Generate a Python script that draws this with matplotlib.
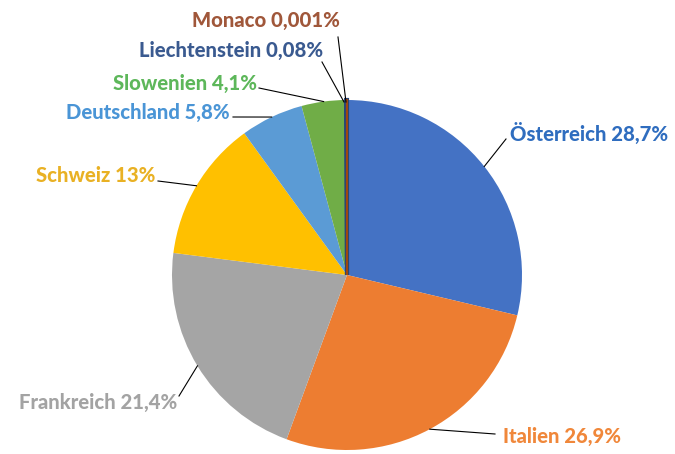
import numpy as np
from matplotlib import pyplot as plt

countries = ["Österreich", "Italien", "Frankreich", "Schweiz", "Deutschland",
             "Slowenien", "Liechtenstein", "Monaco"]
shares = [28.7, 26.9, 21.4, 13.0, 5.8, 4.1, 0.08, 0.001]
share_text = ["28,7%", "26,9%", "21,4%", "13%", "5,8%", "4,1%", "0,08%", "0,001%"]

wedge_colors = ["#4472C4", "#ED7D31", "#A5A5A5", "#FFC000", "#5B9BD5",
                "#70AD47", "#264478", "#9E480E"]
text_colors = ["#2F6DBF", "#F0873A", "#A3A3A3", "#E9B124", "#4A95D6",
               "#5DB75A", "#3A5A90", "#A0573A"]

# label placement in pixel coords (x, y from top), alignment
label_pos = [(510, 133, "left"), (503, 436, "left"), (177, 402, "right"),
             (155, 176, "right"), (230, 112, "right"), (257, 83, "right"),
             (323, 50, "right"), (340, 20, "right")]
line_end = [(506, 139), (495, 434), (179, 396), (158, 181), (233, 117),
            (259, 88), (322, 62), (338, 37)]

W, H = 675, 454
cx, cy, R = 347, 275, 175

fig = plt.figure(figsize=(W / 100, H / 100), dpi=100)
ax = fig.add_axes([0, 0, 1, 1])

wedges, _ = ax.pie(shares, colors=wedge_colors, startangle=90, counterclock=False,
                   center=(cx, H - cy), radius=R, frame=True,
                   wedgeprops=dict(linewidth=0))
# tiny slices get a visible edge
wedges[6].set_edgecolor(wedge_colors[6])
wedges[6].set_linewidth(3)
wedges[7].set_edgecolor(wedge_colors[7])
wedges[7].set_linewidth(1.5)

ax.set_xlim(0, W)
ax.set_ylim(0, H)
ax.set_aspect("equal")
ax.axis("off")

total = sum(shares)
start = 90.0
for i, (name, val) in enumerate(zip(countries, shares)):
    span = val / total * 360
    mid = np.deg2rad(start - span / 2)
    start -= span
    px = cx + R * np.cos(mid)
    py = (H - cy) + R * np.sin(mid)
    if i >= 6:
        py = H - cy + R - 2
        px = cx - 3 if i == 6 else cx - 1
    ex, ey = line_end[i]
    ax.plot([px, ex], [py, H - ey], color="black", lw=0.8)
    tx, ty, ha = label_pos[i]
    ax.text(tx, H - ty, f"{name} {share_text[i]}", color=text_colors[i],
            fontsize=14.6, fontweight="black", family="Lato", ha=ha, va="center")

fig.savefig("out.png", dpi=100)
